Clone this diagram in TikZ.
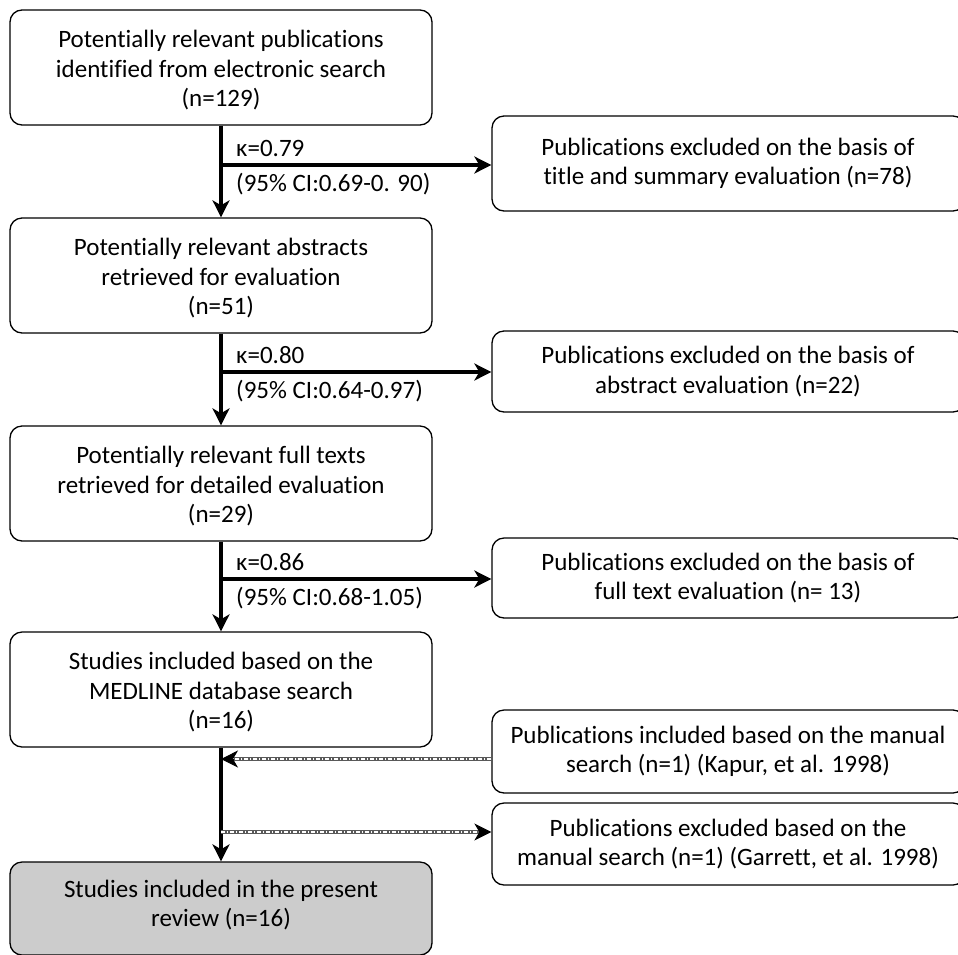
\documentclass[tikz,border=0pt]{standalone}
\usepackage{fontspec}
\setmainfont[RawFeature={-liga;-dlig}]{Carlito}
\usetikzlibrary{arrows.meta,positioning}
\tikzset{
  box/.style={draw=black, line width=1.3pt, rounded corners=12pt, fill=white, inner sep=0pt},
  finalbox/.style={box, fill=black!20},
  txt/.style={align=center, font=\fontsize{25}{29.5}\selectfont},
  lbl/.style={anchor=west, font=\fontsize{25}{29}\selectfont, inner sep=0pt},
  flow/.style={line width=3.6pt, -{Stealth[length=17pt,width=17pt,inset=5pt]}},
  manual/.style={line width=4.5pt, draw=black!65},
  manualin/.style={line width=1.2pt, draw=white, dash pattern=on 4pt off 2pt on 1pt off 2pt},
  mtip/.style={-{Stealth[length=17pt,width=17pt,inset=5pt]}, line width=1pt, draw=black}
}
\begin{document}
\begin{tikzpicture}[x=1pt,y=-1pt]
\useasboundingbox (0,0) rectangle (958,954);
\clip (0,0) rectangle (958,954);
% left column boxes
\node[box, minimum width=422pt, minimum height=115pt] (b1) at (221,67.5) {};
\node[txt] (t1) at ([yshift=-3pt]b1.center) {Potentially relevant publications\\identified from electronic search\\(n=129)};
\node[box, minimum width=422pt, minimum height=115pt] (b2) at (221,275.5) {};
\node[txt] (t2) at ([yshift=-3pt]b2.center) {Potentially relevant abstracts\\retrieved for evaluation\\(n=51)};
\node[box, minimum width=422pt, minimum height=115pt] (b3) at (221,483.5) {};
\node[txt] (t3) at ([yshift=-3pt]b3.center) {Potentially relevant full texts\\retrieved for detailed evaluation\\(n=29)};
\node[box, minimum width=422pt, minimum height=115pt] (b4) at (221,689.5) {};
\node[txt] (t4) at ([yshift=-3pt]b4.center) {Studies included based on the\\MEDLINE database search\\(n=16)};
\node[finalbox, minimum width=422pt, minimum height=93pt] (b5) at (221,908.5) {};
\node[txt] (t5) at (221,905) {Studies included in the present\\review (n=16)};
% right column boxes
\node[box, minimum width=473pt, minimum height=95pt] (r1) at (728.5,163.5) {};
\node[txt] (s1) at (728,163.5) {Publications excluded on the basis of\\title and summary evaluation (n=78)};
\node[box, minimum width=473pt, minimum height=81pt] (r2) at (728.5,371.5) {};
\node[txt] (s2) at (728,371.5) {Publications excluded on the basis of\\abstract evaluation (n=22)};
\node[box, minimum width=473pt, minimum height=80pt] (r3) at (728.5,578) {};
\node[txt] (s3) at (728,578) {Publications excluded on the basis of\\full text evaluation (n=~13)};
\node[box, minimum width=473pt, minimum height=83pt] (r4) at (728.5,751.5) {};
\node[txt] (s4) at (728,751.5) {Publications included based on the manual\\search (n=1) (Kapur, et al. 1998)};
\node[box, minimum width=473pt, minimum height=82pt] (r5) at (728.5,844) {};
\node[txt] (s5) at (728,844) {Publications excluded based on the\\manual search (n=1) (Garrett, et al. 1998)};
% vertical flow
\draw[flow] (b1.south) -- (b2.north);
\draw[flow] (b2.south) -- (b3.north);
\draw[flow] (b3.south) -- (b4.north);
\draw[flow] (b4.south) -- (b5.north);
% junctions
\coordinate (j1) at (221,165);
\coordinate (j2) at (221,372);
\coordinate (j3) at (221,579);
\coordinate (j4) at (221,759);
\coordinate (j5) at (221,832);
\coordinate (e1) at (r1.west |- j1);
\coordinate (e2) at (r2.west |- j2);
\coordinate (e3) at (r3.west |- j3);
\coordinate (e4) at (r4.west |- j4);
\coordinate (e5) at (r5.west |- j5);
\draw[flow] (j1) -- (e1);
\draw[flow] (j2) -- (e2);
\draw[flow] (j3) -- (e3);
% labels
\node[lbl] (k1) at (236,148) {κ=0.79};
\node[lbl] (c1) at (236,184) {(95\% CI:0.69-0. 90)};
\node[lbl] (k2) at (236,355) {κ=0.80};
\node[lbl] (c2) at (236,391) {(95\% CI:0.64-0.97)};
\node[lbl] (k3) at (236,562) {κ=0.86};
\node[lbl] (c3) at (236,598) {(95\% CI:0.68-1.05)};
% manual search (dashed double) arrows
\coordinate (m4) at ([xshift=12pt]j4);
\coordinate (m5) at ([xshift=-12pt]e5);
\draw[manual] (e4) -- (m4);
\draw[manualin] (e4) -- (m4);
\draw[mtip] (m4) -- (j4);
\draw[manual] (j5) -- (m5);
\draw[manualin] (j5) -- (m5);
\draw[mtip] (m5) -- (e5);
\end{tikzpicture}
\end{document}
